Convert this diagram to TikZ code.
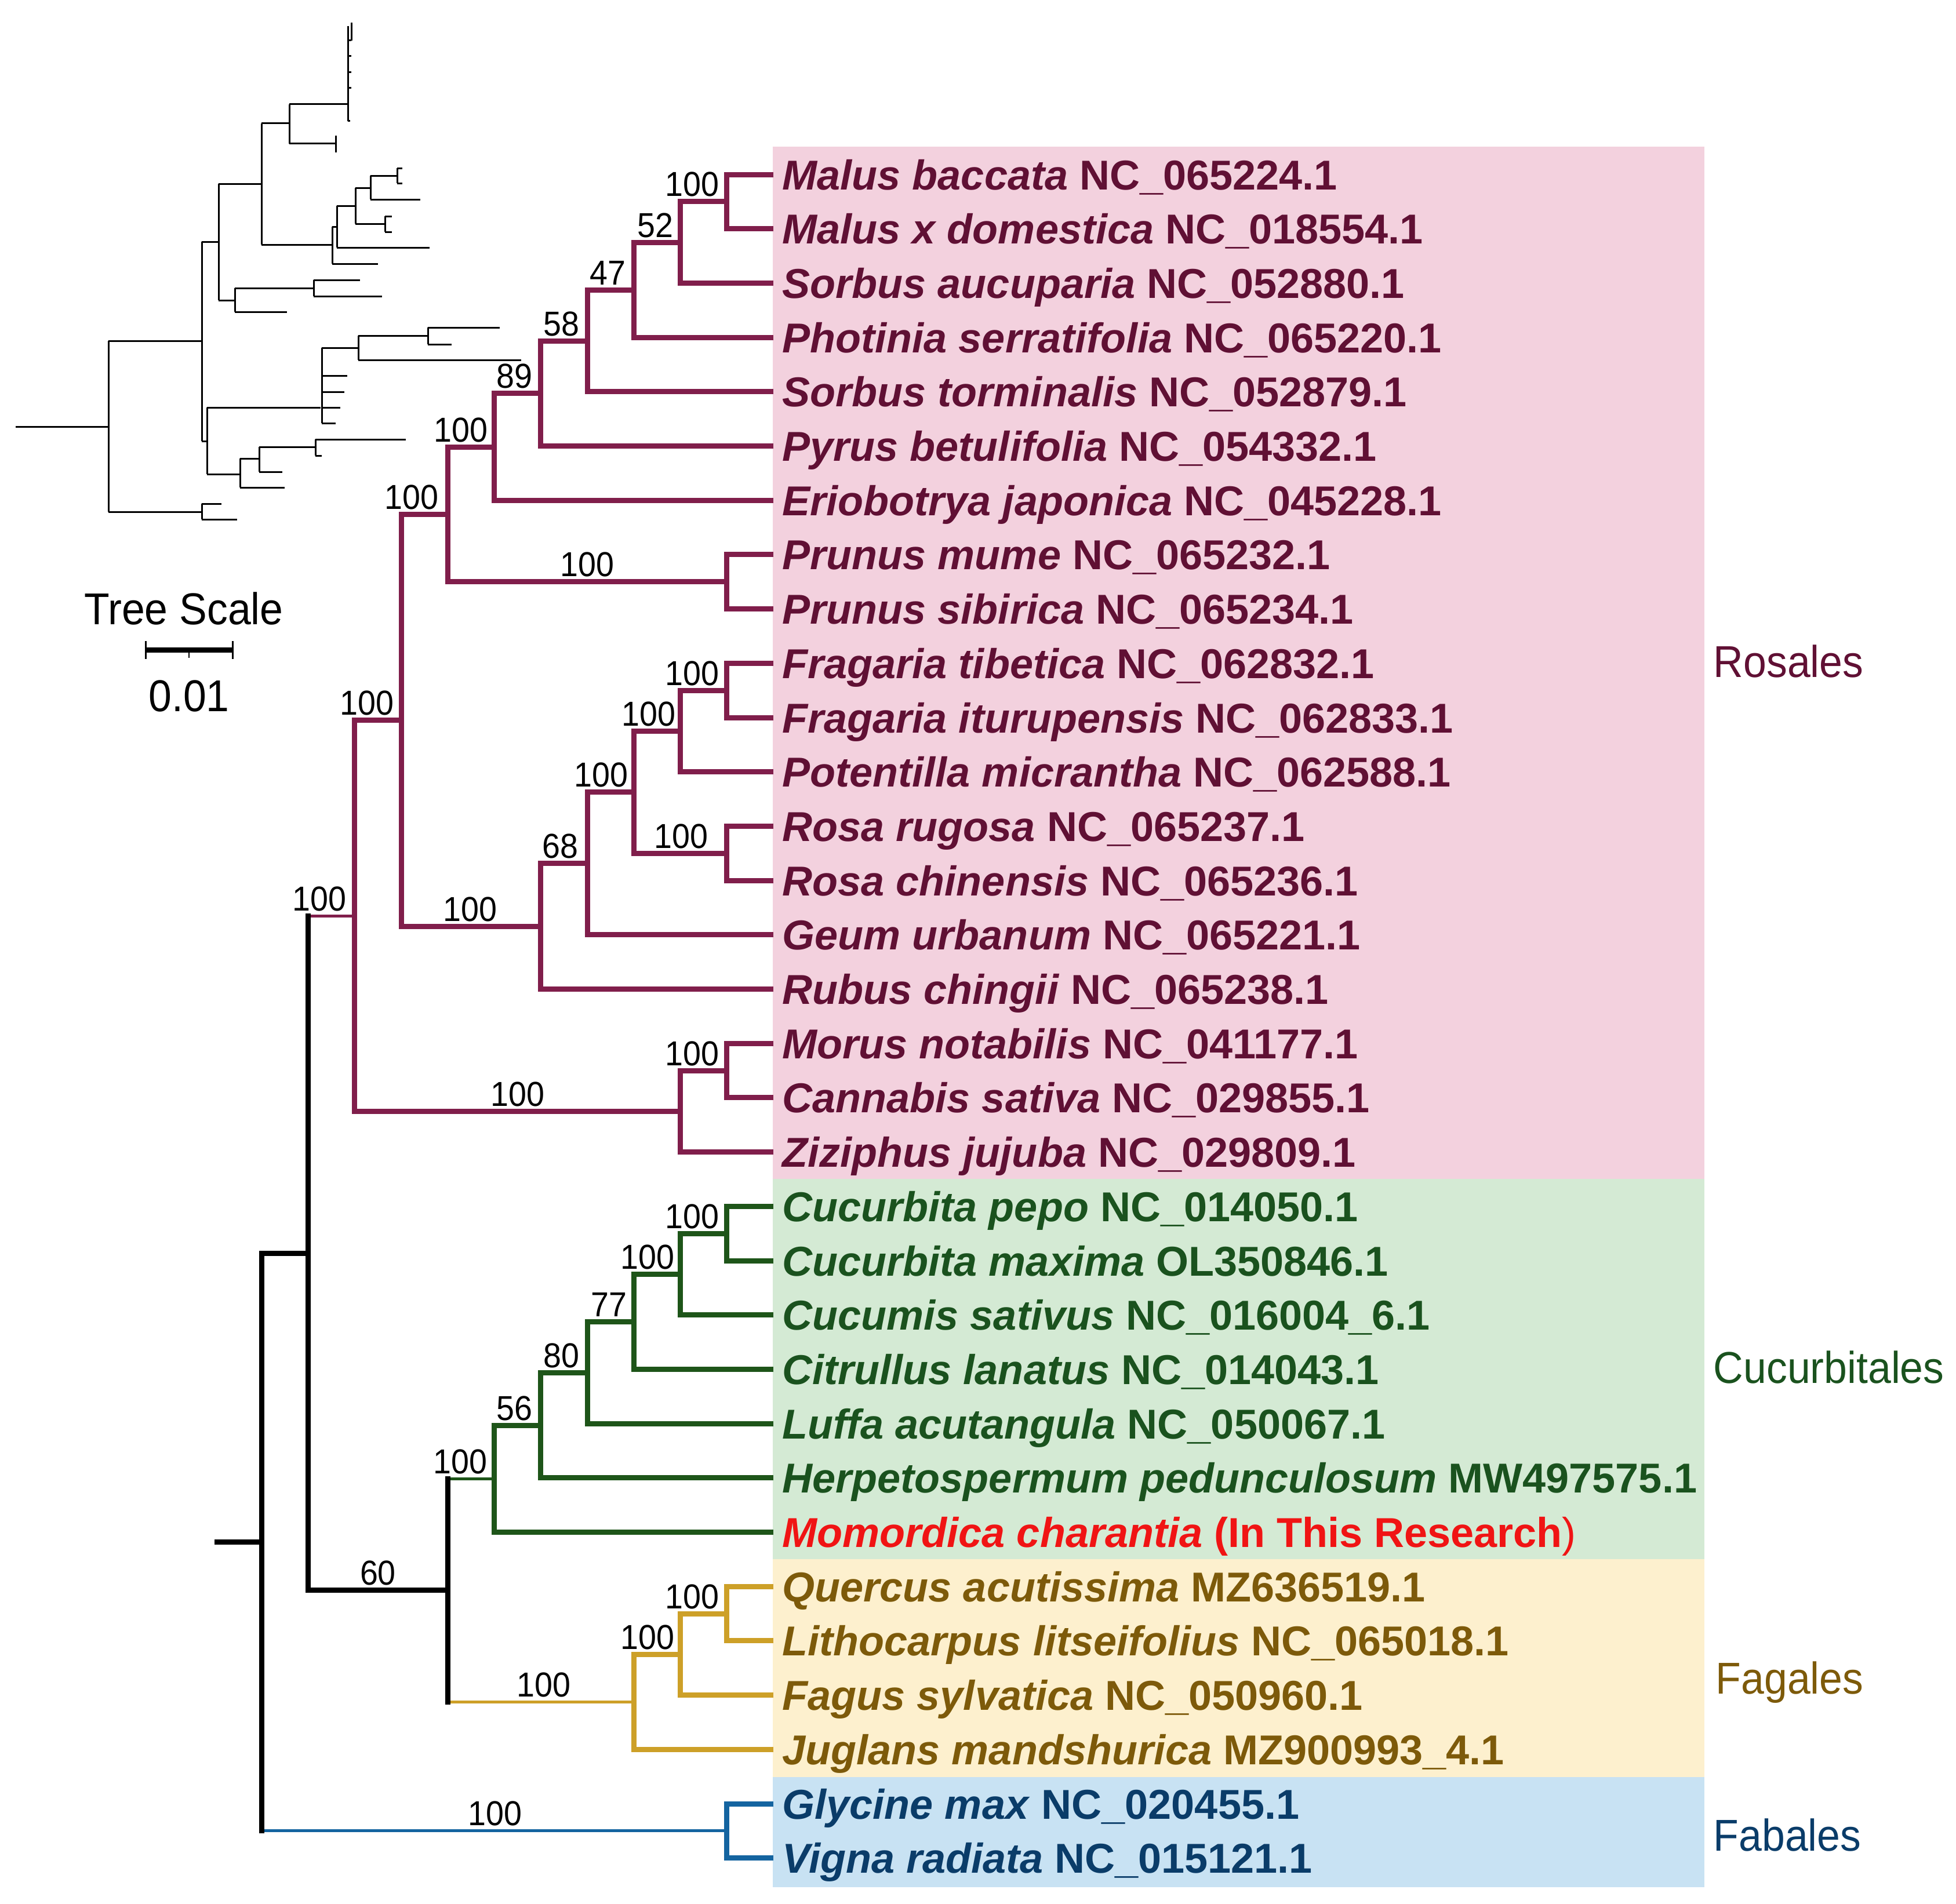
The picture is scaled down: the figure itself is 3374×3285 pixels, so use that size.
\documentclass[tikz,border=0pt]{standalone}
\usepackage{fontspec}
\setmainfont{Liberation Sans}[FakeStretch=0.93]
\newfontfamily\spfont{Liberation Sans}
\definecolor{rosB}{RGB}{128,30,75}
\definecolor{rosT}{RGB}{96,16,52}
\definecolor{pinkBG}{RGB}{243,209,222}
\definecolor{cucB}{RGB}{30,85,25}
\definecolor{cucT}{RGB}{26,82,30}
\definecolor{greenBG}{RGB}{212,234,212}
\definecolor{fagB}{RGB}{205,160,40}
\definecolor{fagT}{RGB}{125,90,10}
\definecolor{yellowBG}{RGB}{253,240,206}
\definecolor{fabB}{RGB}{20,100,160}
\definecolor{fabT}{RGB}{10,60,105}
\definecolor{blueBG}{RGB}{200,226,243}
\definecolor{redT}{RGB}{240,20,20}
\begin{document}
\begin{tikzpicture}[x=0.1mm,y=-0.1mm,
  br/.style={line width=0.9mm,line join=miter},
  rosbr/.style={br,draw=rosB},
  cucbr/.style={br,draw=cucB},
  fagbr/.style={br,draw=fagB},
  fabbr/.style={br,draw=fabB},
  blk/.style={br,draw=black},
  blkv/.style={br,draw=black,line cap=rect},
  thinbr/.style={line width=0.5mm},
  thumb/.style={line width=0.3mm,draw=black},
  sp/.style={anchor=base west,inner sep=0pt,font=\spfont\fontsize{20.5pt}{24pt}\selectfont\bfseries},
  sup/.style={anchor=base,inner sep=0pt,font=\fontsize{17pt}{20pt}\selectfont},
  ord/.style={anchor=base west,inner sep=0pt,font=\fontsize{21.9pt}{25pt}\selectfont}]
\useasboundingbox (0,0) rectangle (3374,3285);
% clade backgrounds
\fill[pinkBG] (1333,253) rectangle (2940,2034);
\fill[greenBG] (1333,2034) rectangle (2940,2690);
\fill[yellowBG] (1333,2690) rectangle (2940,3066);
\fill[blueBG] (1333,3066) rectangle (2940,3256);
% leaves
\foreach \i in {1,...,32} \coordinate (L\i) at (1334,{301+(\i-1)*93.7});
% internal nodes
\coordinate (rmal) at (1253,347.85);
\coordinate (r52) at (1173,418.1);
\coordinate (r47) at (1093,500.1);
\coordinate (r58) at (1013,588.0);
\coordinate (r89) at (932,678.7);
\coordinate (r17) at (852,771.0);
\coordinate (rpru) at (1253,1003.8);
\coordinate (r19) at (772,887.4);
\coordinate (rfra) at (1253,1191.2);
\coordinate (r1012) at (1173,1261.4);
\coordinate (rros) at (1253,1472.3);
\coordinate (r1014) at (1093,1366.8);
\coordinate (r68) at (1013,1489.8);
\coordinate (r1016) at (932,1598.2);
\coordinate (r116) at (692,1242.8);
\coordinate (rmor) at (1253,1847.1);
\coordinate (r1719) at (1173,1917.3);
\coordinate (rRos) at (611,1580.1);
\coordinate (ccuc) at (1253,2128.2);
\coordinate (c2022) at (1173,2198.4);
\coordinate (c77) at (1093,2280.4);
\coordinate (c80) at (1013,2368.3);
\coordinate (c56) at (932,2459.0);
\coordinate (cCuc) at (852,2551.3);
\coordinate (fq) at (1253,2784.1);
\coordinate (f2729) at (1173,2854.3);
\coordinate (fFag) at (1093,2936.3);
\coordinate (n60) at (772,2743.8);
\coordinate (nA) at (531,2162.0);
\coordinate (bfab) at (1253,3158.9);
\coordinate (root) at (451,2660.4);
\coordinate (stub) at (370,2660.4);
% Rosales
\foreach \c/\p in {L1/rmal,L2/rmal,rmal/r52,L3/r52,r52/r47,L4/r47,r47/r58,L5/r58,r58/r89,L6/r89,
  r89/r17,L7/r17,L8/rpru,L9/rpru,r17/r19,rpru/r19,
  L10/rfra,L11/rfra,rfra/r1012,L12/r1012,L13/rros,L14/rros,r1012/r1014,rros/r1014,
  r1014/r68,L15/r68,r68/r1016,L16/r1016,r19/r116,r1016/r116,
  L17/rmor,L18/rmor,rmor/r1719,L19/r1719,r116/rRos,r1719/rRos}
  \draw[rosbr] (\c) -| (\p);
% Cucurbitales
\foreach \c/\p in {L20/ccuc,L21/ccuc,ccuc/c2022,L22/c2022,c2022/c77,L23/c77,c77/c80,L24/c80,
  c80/c56,L25/c56,c56/cCuc,L26/cCuc}
  \draw[cucbr] (\c) -| (\p);
% Fagales
\foreach \c/\p in {L27/fq,L28/fq,fq/f2729,L29/f2729,f2729/fFag,L30/fFag}
  \draw[fagbr] (\c) -| (\p);
% Fabales
\foreach \c/\p in {L31/bfab,L32/bfab}
  \draw[fabbr] (\c) -| (\p);
% backbone
\draw[rosbr,thinbr] (nA |- rRos) -- (rRos);
\draw[cucbr,thinbr] (n60 |- cCuc) -- (cCuc);
\draw[fagbr,thinbr] (n60 |- fFag) -- (fFag);
\draw[fabbr,thinbr] (root |- bfab) -- (bfab);
\draw[blk] (nA |- n60) -- (n60);
\draw[blk] (root |- nA) -- (nA);
\draw[blk] (stub) -- (root);
\draw[blkv] (root |- nA) -- (root |- bfab);
\draw[blkv] (nA |- rRos) -- (nA |- n60);
\draw[blkv] (n60 |- cCuc) -- (n60 |- fFag);
% species labels
\foreach \i/\g/\a/\c in {1/Malus baccata/NC\_065224.1/rosT,2/Malus x domestica/NC\_018554.1/rosT,
  3/Sorbus aucuparia/NC\_052880.1/rosT,4/Photinia serratifolia/NC\_065220.1/rosT,
  5/Sorbus torminalis/NC\_052879.1/rosT,6/Pyrus betulifolia/NC\_054332.1/rosT,
  7/Eriobotrya japonica/NC\_045228.1/rosT,8/Prunus mume/NC\_065232.1/rosT,
  9/Prunus sibirica/NC\_065234.1/rosT,10/Fragaria tibetica/NC\_062832.1/rosT,
  11/Fragaria iturupensis/NC\_062833.1/rosT,12/Potentilla micrantha/NC\_062588.1/rosT,
  13/Rosa rugosa/NC\_065237.1/rosT,14/Rosa chinensis/NC\_065236.1/rosT,
  15/Geum urbanum/NC\_065221.1/rosT,16/Rubus chingii/NC\_065238.1/rosT,
  17/Morus notabilis/NC\_041177.1/rosT,18/Cannabis sativa/NC\_029855.1/rosT,
  19/Ziziphus jujuba/NC\_029809.1/rosT,20/Cucurbita pepo/NC\_014050.1/cucT,
  21/Cucurbita maxima/OL350846.1/cucT,22/Cucumis sativus/NC\_016004\_6.1/cucT,
  23/Citrullus lanatus/NC\_014043.1/cucT,24/Luffa acutangula/NC\_050067.1/cucT,
  25/Herpetospermum pedunculosum/MW497575.1/cucT,
  27/Quercus acutissima/MZ636519.1/fagT,28/Lithocarpus litseifolius/NC\_065018.1/fagT,
  29/Fagus sylvatica/NC\_050960.1/fagT,30/Juglans mandshurica/MZ900993\_4.1/fagT,
  31/Glycine max/NC\_020455.1/fabT,32/Vigna radiata/NC\_015121.1/fabT}
  \node[sp,text=\c] (T\i) at ([shift={(15,26)}]L\i) {\textit{\g} \a};
\node[sp,text=redT] (T26) at ([shift={(15,26)}]L26) {\textit{Momordica charantia} (In This Research{\mdseries)}};
% support values
\foreach \x/\y/\t [count=\k] in {1194/347.85/100,1130/418.1/52,1048/500.1/47,968/588.0/58,887/678.7/89,
  795/771.0/100,710/887.4/100,1013/1003.8/100,633/1242.8/100,551/1580.1/100,
  1194/1191.2/100,1119/1261.4/100,1037/1366.8/100,1175/1472.3/100,966/1489.8/68,
  811/1598.2/100,1194/1847.1/100,893/1917.3/100,1194/2128.2/100,1117/2198.4/100,
  1050/2280.4/77,968/2368.3/80,887/2459.0/56,794/2551.3/100,652/2743.8/60,
  1194/2784.1/100,1117/2854.3/100,938/2936.3/100,854/3158.9/100}
  \node[sup] (S\k) at (\x,\y-9) {\t};
% order labels
\node[ord,text=rosT] (oRos) at (2955,1168) {Rosales};
\node[ord,text=cucT] (oCuc) at (2955,2386) {Cucurbitales};
\node[ord,text=fagT] (oFag) at (2959,2922) {Fagales};
\node[ord,text=fabT] (oFab) at (2955,3193) {Fabales};
% tree scale
\node[anchor=base,inner sep=0pt,font=\fontsize{21.9pt}{25pt}\selectfont] (tsc) at (317,1077) {Tree Scale};
\coordinate (sbL) at (251,1121);
\coordinate (sbR) at (401,1121);
\coordinate (sbM) at (326,1121);
\draw[line width=0.9mm] (sbL) -- (sbR);
\draw[line width=0.3mm] ([shift={(0,-15)}]sbL) -- ([shift={(0,16)}]sbL);
\draw[line width=0.3mm] ([shift={(0,-15)}]sbR) -- ([shift={(0,16)}]sbR);
\draw[line width=0.2mm] (sbM) -- ([shift={(0,14)}]sbM);
\node[anchor=base,inner sep=0pt,font=\fontsize{21.9pt}{25pt}\selectfont] (tsv) at (326,1227) {0.01};
% thumbnail tree
\draw[thumb] (27,736) -- (187,736);
\draw[thumb] (187,588) -- (187,883);
\draw[thumb] (187,883) -- (348,883) (348,869) -- (348,896) (348,869) -- (382,869) (348,896) -- (409,896);
\draw[thumb] (187,588) -- (348,588) (348,417) -- (348,761);
\draw[thumb] (348,417) -- (377,417) (377,317) -- (377,518);
\draw[thumb] (377,317) -- (451,317) (451,213) -- (451,422);
\draw[thumb] (451,213) -- (499,213) (499,180) -- (499,248);
\draw[thumb] (499,180) -- (600,180) (600,45) -- (600,209) (606,39) -- (606,70) (600,209) -- (604,209);
\foreach \yy in {70,97,125,152} \draw[thumb] (600,\yy) -- (606,\yy);
\draw[thumb] (499,248) -- (579,248) (579,234) -- (579,263);
\draw[thumb] (451,422) -- (573,422) (573,391) -- (573,455) (573,455) -- (652,455) (573,391) -- (581,391)
  (581,355) -- (581,427) (581,427) -- (741,427) (581,355) -- (613,355) (613,324) -- (613,386)
  (613,324) -- (639,324) (639,303) -- (639,344) (639,303) -- (685,303) (685,290) -- (685,316)
  (685,290) -- (694,290) (685,316) -- (694,316) (639,344) -- (725,344) (613,386) -- (664,386)
  (664,373) -- (664,400) (664,373) -- (676,373) (664,400) -- (676,400);
\draw[thumb] (377,518) -- (405,518) (405,497) -- (405,538) (405,538) -- (495,538) (405,497) -- (541,497)
  (541,483) -- (541,511) (541,483) -- (621,483) (541,511) -- (659,511);
\draw[thumb] (348,761) -- (357,761) (357,703) -- (357,818);
\draw[thumb] (357,703) -- (553,703) (555,600) -- (555,730) (555,730) -- (579,730) (555,703) -- (587,703)
  (555,676) -- (594,676) (555,648) -- (599,648) (555,600) -- (618,600) (618,579) -- (618,621)
  (618,621) -- (899,621) (618,579) -- (738,579) (738,565) -- (738,594) (738,565) -- (862,565)
  (738,594) -- (779,594);
\draw[thumb] (357,818) -- (414,818) (414,791) -- (414,841) (414,841) -- (491,841) (414,791) -- (447,791)
  (447,771) -- (447,814) (447,814) -- (487,814) (447,771) -- (544,771) (544,758) -- (544,786)
  (544,758) -- (700,758) (544,786) -- (555,786);
\end{tikzpicture}
\end{document}
